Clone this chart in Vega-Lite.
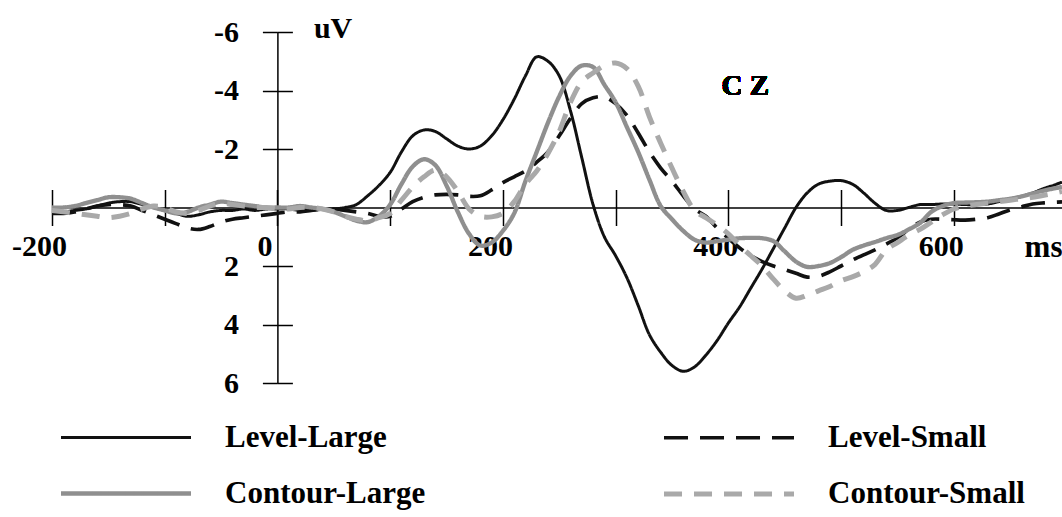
{
  "$schema": "https://vega.github.io/schema/vega-lite/v6.json",
  "width": 1010,
  "height": 351,
  "autosize": {"type": "none"},
  "padding": {"left": 52, "top": 32, "right": 0, "bottom": 134},
  "background": "white",
  "config": {"view": {"stroke": null}, "font": "Liberation Serif"},
  "data": {"values": [
    {"t":-200,"s":"Level-Large","v":0.15},{"t":-190,"s":"Level-Large","v":0.15},{"t":-180,"s":"Level-Large","v":0.1},{"t":-170,"s":"Level-Large","v":0.05},{"t":-160,"s":"Level-Large","v":-0.05},{"t":-150,"s":"Level-Large","v":-0.15},{"t":-140,"s":"Level-Large","v":-0.2},{"t":-130,"s":"Level-Large","v":-0.2},{"t":-120,"s":"Level-Large","v":-0.1},{"t":-110,"s":"Level-Large","v":0},{"t":-100,"s":"Level-Large","v":0.1},{"t":-90,"s":"Level-Large","v":0.2},{"t":-80,"s":"Level-Large","v":0.3},{"t":-70,"s":"Level-Large","v":0.25},{"t":-60,"s":"Level-Large","v":0.15},{"t":-50,"s":"Level-Large","v":0.1},{"t":-40,"s":"Level-Large","v":0.1},{"t":-30,"s":"Level-Large","v":0.05},{"t":-20,"s":"Level-Large","v":0.1},{"t":-10,"s":"Level-Large","v":0.05},{"t":0,"s":"Level-Large","v":0.05},{"t":10,"s":"Level-Large","v":0.05},{"t":20,"s":"Level-Large","v":0.1},{"t":30,"s":"Level-Large","v":0.1},{"t":40,"s":"Level-Large","v":0.05},{"t":50,"s":"Level-Large","v":0.05},{"t":60,"s":"Level-Large","v":0},{"t":70,"s":"Level-Large","v":-0.1},{"t":80,"s":"Level-Large","v":-0.4},{"t":90,"s":"Level-Large","v":-0.75},{"t":100,"s":"Level-Large","v":-1.2},{"t":110,"s":"Level-Large","v":-1.9},{"t":120,"s":"Level-Large","v":-2.45},{"t":130,"s":"Level-Large","v":-2.65},{"t":140,"s":"Level-Large","v":-2.6},{"t":150,"s":"Level-Large","v":-2.35},{"t":160,"s":"Level-Large","v":-2.1},{"t":170,"s":"Level-Large","v":-2.0},{"t":180,"s":"Level-Large","v":-2.1},{"t":190,"s":"Level-Large","v":-2.45},{"t":200,"s":"Level-Large","v":-3.0},{"t":210,"s":"Level-Large","v":-3.7},{"t":220,"s":"Level-Large","v":-4.5},{"t":230,"s":"Level-Large","v":-5.15},{"t":240,"s":"Level-Large","v":-5.0},{"t":250,"s":"Level-Large","v":-4.5},{"t":260,"s":"Level-Large","v":-3.3},{"t":270,"s":"Level-Large","v":-1.7},{"t":280,"s":"Level-Large","v":-0.1},{"t":290,"s":"Level-Large","v":1.0},{"t":300,"s":"Level-Large","v":1.65},{"t":310,"s":"Level-Large","v":2.4},{"t":320,"s":"Level-Large","v":3.35},{"t":330,"s":"Level-Large","v":4.35},{"t":340,"s":"Level-Large","v":4.95},{"t":350,"s":"Level-Large","v":5.4},{"t":360,"s":"Level-Large","v":5.6},{"t":370,"s":"Level-Large","v":5.45},{"t":380,"s":"Level-Large","v":5.05},{"t":390,"s":"Level-Large","v":4.55},{"t":400,"s":"Level-Large","v":3.95},{"t":410,"s":"Level-Large","v":3.4},{"t":420,"s":"Level-Large","v":2.75},{"t":430,"s":"Level-Large","v":2.1},{"t":440,"s":"Level-Large","v":1.4},{"t":450,"s":"Level-Large","v":0.7},{"t":460,"s":"Level-Large","v":0.0},{"t":470,"s":"Level-Large","v":-0.5},{"t":480,"s":"Level-Large","v":-0.8},{"t":490,"s":"Level-Large","v":-0.9},{"t":500,"s":"Level-Large","v":-0.92},{"t":510,"s":"Level-Large","v":-0.8},{"t":520,"s":"Level-Large","v":-0.5},{"t":530,"s":"Level-Large","v":-0.15},{"t":540,"s":"Level-Large","v":0.1},{"t":550,"s":"Level-Large","v":0.1},{"t":560,"s":"Level-Large","v":0.0},{"t":570,"s":"Level-Large","v":-0.1},{"t":580,"s":"Level-Large","v":-0.1},{"t":590,"s":"Level-Large","v":-0.12},{"t":600,"s":"Level-Large","v":-0.12},{"t":610,"s":"Level-Large","v":-0.1},{"t":620,"s":"Level-Large","v":-0.1},{"t":630,"s":"Level-Large","v":-0.12},{"t":640,"s":"Level-Large","v":-0.2},{"t":650,"s":"Level-Large","v":-0.28},{"t":660,"s":"Level-Large","v":-0.38},{"t":670,"s":"Level-Large","v":-0.5},{"t":680,"s":"Level-Large","v":-0.65},{"t":690,"s":"Level-Large","v":-0.78},{"t":696,"s":"Level-Large","v":-0.87},

    {"t":-200,"s":"Level-Small","v":0.2},{"t":-190,"s":"Level-Small","v":0.2},{"t":-180,"s":"Level-Small","v":0.15},{"t":-170,"s":"Level-Small","v":0.05},{"t":-160,"s":"Level-Small","v":-0.05},{"t":-150,"s":"Level-Small","v":-0.1},{"t":-140,"s":"Level-Small","v":-0.1},{"t":-130,"s":"Level-Small","v":-0.05},{"t":-120,"s":"Level-Small","v":0.1},{"t":-110,"s":"Level-Small","v":0.25},{"t":-100,"s":"Level-Small","v":0.4},{"t":-90,"s":"Level-Small","v":0.55},{"t":-80,"s":"Level-Small","v":0.7},{"t":-70,"s":"Level-Small","v":0.75},{"t":-60,"s":"Level-Small","v":0.65},{"t":-50,"s":"Level-Small","v":0.5},{"t":-40,"s":"Level-Small","v":0.4},{"t":-30,"s":"Level-Small","v":0.35},{"t":-20,"s":"Level-Small","v":0.3},{"t":-10,"s":"Level-Small","v":0.25},{"t":0,"s":"Level-Small","v":0.2},{"t":10,"s":"Level-Small","v":0.15},{"t":20,"s":"Level-Small","v":0.15},{"t":30,"s":"Level-Small","v":0.1},{"t":40,"s":"Level-Small","v":0.05},{"t":50,"s":"Level-Small","v":0.05},{"t":60,"s":"Level-Small","v":0.1},{"t":70,"s":"Level-Small","v":0.15},{"t":80,"s":"Level-Small","v":0.2},{"t":90,"s":"Level-Small","v":0.3},{"t":100,"s":"Level-Small","v":0.3},{"t":110,"s":"Level-Small","v":0.05},{"t":120,"s":"Level-Small","v":-0.2},{"t":130,"s":"Level-Small","v":-0.35},{"t":140,"s":"Level-Small","v":-0.43},{"t":150,"s":"Level-Small","v":-0.45},{"t":160,"s":"Level-Small","v":-0.43},{"t":170,"s":"Level-Small","v":-0.38},{"t":180,"s":"Level-Small","v":-0.4},{"t":190,"s":"Level-Small","v":-0.6},{"t":200,"s":"Level-Small","v":-0.85},{"t":210,"s":"Level-Small","v":-1.05},{"t":220,"s":"Level-Small","v":-1.25},{"t":230,"s":"Level-Small","v":-1.55},{"t":240,"s":"Level-Small","v":-1.9},{"t":250,"s":"Level-Small","v":-2.45},{"t":260,"s":"Level-Small","v":-3.05},{"t":270,"s":"Level-Small","v":-3.55},{"t":280,"s":"Level-Small","v":-3.75},{"t":290,"s":"Level-Small","v":-3.78},{"t":300,"s":"Level-Small","v":-3.55},{"t":310,"s":"Level-Small","v":-3.15},{"t":320,"s":"Level-Small","v":-2.55},{"t":330,"s":"Level-Small","v":-1.9},{"t":340,"s":"Level-Small","v":-1.35},{"t":350,"s":"Level-Small","v":-0.9},{"t":360,"s":"Level-Small","v":-0.4},{"t":370,"s":"Level-Small","v":0.05},{"t":380,"s":"Level-Small","v":0.3},{"t":390,"s":"Level-Small","v":0.7},{"t":400,"s":"Level-Small","v":1.05},{"t":410,"s":"Level-Small","v":1.38},{"t":420,"s":"Level-Small","v":1.65},{"t":430,"s":"Level-Small","v":1.85},{"t":440,"s":"Level-Small","v":2.0},{"t":450,"s":"Level-Small","v":2.12},{"t":460,"s":"Level-Small","v":2.25},{"t":470,"s":"Level-Small","v":2.38},{"t":480,"s":"Level-Small","v":2.35},{"t":490,"s":"Level-Small","v":2.2},{"t":500,"s":"Level-Small","v":2.0},{"t":510,"s":"Level-Small","v":1.8},{"t":520,"s":"Level-Small","v":1.62},{"t":530,"s":"Level-Small","v":1.45},{"t":540,"s":"Level-Small","v":1.25},{"t":550,"s":"Level-Small","v":1.04},{"t":560,"s":"Level-Small","v":0.75},{"t":570,"s":"Level-Small","v":0.5},{"t":580,"s":"Level-Small","v":0.4},{"t":590,"s":"Level-Small","v":0.4},{"t":600,"s":"Level-Small","v":0.42},{"t":610,"s":"Level-Small","v":0.43},{"t":620,"s":"Level-Small","v":0.4},{"t":630,"s":"Level-Small","v":0.35},{"t":640,"s":"Level-Small","v":0.22},{"t":650,"s":"Level-Small","v":0.08},{"t":660,"s":"Level-Small","v":-0.02},{"t":670,"s":"Level-Small","v":-0.12},{"t":680,"s":"Level-Small","v":-0.16},{"t":690,"s":"Level-Small","v":-0.18},{"t":696,"s":"Level-Small","v":-0.19},

    {"t":-200,"s":"Contour-Large","v":0.0},{"t":-190,"s":"Contour-Large","v":0.0},{"t":-180,"s":"Contour-Large","v":-0.05},{"t":-170,"s":"Contour-Large","v":-0.15},{"t":-160,"s":"Contour-Large","v":-0.25},{"t":-150,"s":"Contour-Large","v":-0.35},{"t":-140,"s":"Contour-Large","v":-0.35},{"t":-130,"s":"Contour-Large","v":-0.3},{"t":-120,"s":"Contour-Large","v":-0.15},{"t":-110,"s":"Contour-Large","v":0.0},{"t":-100,"s":"Contour-Large","v":0.1},{"t":-90,"s":"Contour-Large","v":0.2},{"t":-80,"s":"Contour-Large","v":0.15},{"t":-70,"s":"Contour-Large","v":0.0},{"t":-60,"s":"Contour-Large","v":-0.1},{"t":-50,"s":"Contour-Large","v":-0.2},{"t":-40,"s":"Contour-Large","v":-0.15},{"t":-30,"s":"Contour-Large","v":-0.1},{"t":-20,"s":"Contour-Large","v":-0.05},{"t":-10,"s":"Contour-Large","v":0.0},{"t":0,"s":"Contour-Large","v":0.0},{"t":10,"s":"Contour-Large","v":0.0},{"t":20,"s":"Contour-Large","v":-0.05},{"t":30,"s":"Contour-Large","v":0.0},{"t":40,"s":"Contour-Large","v":0.05},{"t":50,"s":"Contour-Large","v":0.15},{"t":60,"s":"Contour-Large","v":0.3},{"t":70,"s":"Contour-Large","v":0.45},{"t":80,"s":"Contour-Large","v":0.5},{"t":90,"s":"Contour-Large","v":0.3},{"t":100,"s":"Contour-Large","v":-0.1},{"t":110,"s":"Contour-Large","v":-0.8},{"t":120,"s":"Contour-Large","v":-1.4},{"t":130,"s":"Contour-Large","v":-1.65},{"t":140,"s":"Contour-Large","v":-1.45},{"t":150,"s":"Contour-Large","v":-0.75},{"t":160,"s":"Contour-Large","v":0.15},{"t":170,"s":"Contour-Large","v":0.9},{"t":180,"s":"Contour-Large","v":1.3},{"t":190,"s":"Contour-Large","v":1.2},{"t":200,"s":"Contour-Large","v":0.8},{"t":210,"s":"Contour-Large","v":0.2},{"t":220,"s":"Contour-Large","v":-0.9},{"t":230,"s":"Contour-Large","v":-1.9},{"t":240,"s":"Contour-Large","v":-2.9},{"t":250,"s":"Contour-Large","v":-3.8},{"t":260,"s":"Contour-Large","v":-4.5},{"t":270,"s":"Contour-Large","v":-4.85},{"t":280,"s":"Contour-Large","v":-4.8},{"t":290,"s":"Contour-Large","v":-4.2},{"t":300,"s":"Contour-Large","v":-3.6},{"t":310,"s":"Contour-Large","v":-2.75},{"t":320,"s":"Contour-Large","v":-1.9},{"t":330,"s":"Contour-Large","v":-0.95},{"t":340,"s":"Contour-Large","v":-0.05},{"t":350,"s":"Contour-Large","v":0.4},{"t":360,"s":"Contour-Large","v":0.8},{"t":370,"s":"Contour-Large","v":1.1},{"t":380,"s":"Contour-Large","v":1.2},{"t":390,"s":"Contour-Large","v":1.15},{"t":400,"s":"Contour-Large","v":1.1},{"t":410,"s":"Contour-Large","v":1.05},{"t":420,"s":"Contour-Large","v":1.04},{"t":430,"s":"Contour-Large","v":1.05},{"t":440,"s":"Contour-Large","v":1.15},{"t":450,"s":"Contour-Large","v":1.5},{"t":460,"s":"Contour-Large","v":1.85},{"t":470,"s":"Contour-Large","v":2.03},{"t":480,"s":"Contour-Large","v":2.0},{"t":490,"s":"Contour-Large","v":1.9},{"t":500,"s":"Contour-Large","v":1.7},{"t":510,"s":"Contour-Large","v":1.45},{"t":520,"s":"Contour-Large","v":1.3},{"t":530,"s":"Contour-Large","v":1.18},{"t":540,"s":"Contour-Large","v":1.05},{"t":550,"s":"Contour-Large","v":0.94},{"t":560,"s":"Contour-Large","v":0.75},{"t":570,"s":"Contour-Large","v":0.53},{"t":580,"s":"Contour-Large","v":0.15},{"t":590,"s":"Contour-Large","v":-0.05},{"t":600,"s":"Contour-Large","v":-0.15},{"t":610,"s":"Contour-Large","v":-0.17},{"t":620,"s":"Contour-Large","v":-0.18},{"t":630,"s":"Contour-Large","v":-0.2},{"t":640,"s":"Contour-Large","v":-0.25},{"t":650,"s":"Contour-Large","v":-0.3},{"t":660,"s":"Contour-Large","v":-0.38},{"t":670,"s":"Contour-Large","v":-0.48},{"t":680,"s":"Contour-Large","v":-0.58},{"t":690,"s":"Contour-Large","v":-0.66},{"t":696,"s":"Contour-Large","v":-0.7},

    {"t":-200,"s":"Contour-Small","v":0.1},{"t":-190,"s":"Contour-Small","v":0.15},{"t":-180,"s":"Contour-Small","v":0.2},{"t":-170,"s":"Contour-Small","v":0.25},{"t":-160,"s":"Contour-Small","v":0.3},{"t":-150,"s":"Contour-Small","v":0.35},{"t":-140,"s":"Contour-Small","v":0.3},{"t":-130,"s":"Contour-Small","v":0.2},{"t":-120,"s":"Contour-Small","v":0.05},{"t":-110,"s":"Contour-Small","v":-0.05},{"t":-100,"s":"Contour-Small","v":0.0},{"t":-90,"s":"Contour-Small","v":0.15},{"t":-80,"s":"Contour-Small","v":0.2},{"t":-70,"s":"Contour-Small","v":0.1},{"t":-60,"s":"Contour-Small","v":-0.05},{"t":-50,"s":"Contour-Small","v":-0.15},{"t":-40,"s":"Contour-Small","v":-0.1},{"t":-30,"s":"Contour-Small","v":-0.05},{"t":-20,"s":"Contour-Small","v":0.0},{"t":-10,"s":"Contour-Small","v":0.0},{"t":0,"s":"Contour-Small","v":0.05},{"t":10,"s":"Contour-Small","v":0.05},{"t":20,"s":"Contour-Small","v":0.0},{"t":30,"s":"Contour-Small","v":0.0},{"t":40,"s":"Contour-Small","v":0.05},{"t":50,"s":"Contour-Small","v":0.15},{"t":60,"s":"Contour-Small","v":0.3},{"t":70,"s":"Contour-Small","v":0.4},{"t":80,"s":"Contour-Small","v":0.45},{"t":90,"s":"Contour-Small","v":0.35},{"t":100,"s":"Contour-Small","v":0.2},{"t":110,"s":"Contour-Small","v":-0.25},{"t":120,"s":"Contour-Small","v":-0.7},{"t":130,"s":"Contour-Small","v":-1.05},{"t":140,"s":"Contour-Small","v":-1.28},{"t":150,"s":"Contour-Small","v":-1.05},{"t":160,"s":"Contour-Small","v":-0.55},{"t":170,"s":"Contour-Small","v":0.05},{"t":180,"s":"Contour-Small","v":0.3},{"t":190,"s":"Contour-Small","v":0.32},{"t":200,"s":"Contour-Small","v":0.2},{"t":210,"s":"Contour-Small","v":-0.2},{"t":220,"s":"Contour-Small","v":-0.8},{"t":230,"s":"Contour-Small","v":-1.25},{"t":240,"s":"Contour-Small","v":-1.85},{"t":250,"s":"Contour-Small","v":-2.6},{"t":260,"s":"Contour-Small","v":-3.6},{"t":270,"s":"Contour-Small","v":-4.3},{"t":280,"s":"Contour-Small","v":-4.6},{"t":290,"s":"Contour-Small","v":-4.85},{"t":300,"s":"Contour-Small","v":-4.94},{"t":310,"s":"Contour-Small","v":-4.75},{"t":320,"s":"Contour-Small","v":-4.15},{"t":330,"s":"Contour-Small","v":-3.1},{"t":340,"s":"Contour-Small","v":-2.2},{"t":350,"s":"Contour-Small","v":-1.35},{"t":360,"s":"Contour-Small","v":-0.55},{"t":370,"s":"Contour-Small","v":0.1},{"t":380,"s":"Contour-Small","v":0.35},{"t":390,"s":"Contour-Small","v":0.6},{"t":400,"s":"Contour-Small","v":0.9},{"t":410,"s":"Contour-Small","v":1.3},{"t":420,"s":"Contour-Small","v":1.65},{"t":430,"s":"Contour-Small","v":2.0},{"t":440,"s":"Contour-Small","v":2.45},{"t":450,"s":"Contour-Small","v":2.85},{"t":460,"s":"Contour-Small","v":3.1},{"t":470,"s":"Contour-Small","v":3.0},{"t":480,"s":"Contour-Small","v":2.85},{"t":490,"s":"Contour-Small","v":2.7},{"t":500,"s":"Contour-Small","v":2.5},{"t":510,"s":"Contour-Small","v":2.37},{"t":520,"s":"Contour-Small","v":2.2},{"t":530,"s":"Contour-Small","v":1.95},{"t":540,"s":"Contour-Small","v":1.45},{"t":550,"s":"Contour-Small","v":1.2},{"t":560,"s":"Contour-Small","v":0.95},{"t":570,"s":"Contour-Small","v":0.75},{"t":580,"s":"Contour-Small","v":0.5},{"t":590,"s":"Contour-Small","v":0.25},{"t":600,"s":"Contour-Small","v":0.05},{"t":610,"s":"Contour-Small","v":-0.05},{"t":620,"s":"Contour-Small","v":-0.1},{"t":630,"s":"Contour-Small","v":-0.15},{"t":640,"s":"Contour-Small","v":-0.2},{"t":650,"s":"Contour-Small","v":-0.25},{"t":660,"s":"Contour-Small","v":-0.3},{"t":670,"s":"Contour-Small","v":-0.35},{"t":680,"s":"Contour-Small","v":-0.42},{"t":690,"s":"Contour-Small","v":-0.5},{"t":696,"s":"Contour-Small","v":-0.55}
  ]},
  "resolve": {"axis": {"x": "independent", "y": "independent"}},
  "layer": [
    {
      "mark": {"type": "line", "interpolate": "catmull-rom"},
      "encoding": {
        "x": {"field": "t", "type": "quantitative",
          "scale": {"domain": [-200, 696], "nice": false, "zero": false},
          "axis": {"orient": "bottom", "offset": -175.5, "values": [-200,-100,0,100,200,300,400,500,600],
            "tickSize": 18, "tickWidth": 1.5, "tickColor": "black", "domainColor": "black", "domainWidth": 1.5,
            "grid": false, "labelFont": "Liberation Serif", "labelFontWeight": "bold", "labelFontSize": 30, "labelColor": "black",
            "labelExpr": "datum.value % 200 == 0 ? '' + datum.value : ''", "labelOffset": -13, "labelPadding": 6,
            "labelFlush": false, "labelOverlap": false,
            "title": "ms", "titleFont": "Liberation Serif", "titleFontWeight": "bold", "titleFontSize": 31, "titleColor": "black",
            "titleX": 1010, "titleY": 40, "titleAlign": "right", "titleBaseline": "middle"}},
        "y": {"field": "v", "type": "quantitative",
          "scale": {"domain": [-6, 6], "nice": false, "zero": false, "reverse": true},
          "axis": {"orient": "left", "offset": -225.4, "values": [-6,-4,-2,2,4,6],
            "tickSize": 15, "tickWidth": 1.5, "tickColor": "black", "domainColor": "black", "domainWidth": 1.5,
            "grid": false, "labelFont": "Liberation Serif", "labelFontWeight": "bold", "labelFontSize": 30, "labelColor": "black",
            "labelExpr": "'' + datum.value", "labelPadding": 24, "labelFlush": false, "labelOverlap": false,
            "title": "uV", "titleAngle": 0, "titleFont": "Liberation Serif", "titleFontWeight": "bold", "titleFontSize": 30, "titleColor": "black",
            "titleX": 36, "titleY": -4, "titleAlign": "left", "titleBaseline": "middle"}},
        "color": {"field": "s", "type": "nominal",
          "scale": {"domain": ["Level-Large", "Level-Small", "Contour-Large", "Contour-Small"], "range": ["#111111", "#111111", "#8f8f8f", "#a9a9a9"]},
          "legend": {"orient": "none", "direction": "horizontal", "legendX": 55, "legendY": 387, "columns": 2, "columnPadding": 228, "rowPadding": 22,
            "symbolType": "M -4 0 L 4 0", "symbolSize": 1056, "labelFont": "Liberation Serif", "labelFontWeight": "bold",
            "labelFontSize": 31, "labelColor": "black", "labelOffset": 80, "labelLimit": 0, "title": null}},
        "strokeDash": {"field": "s", "type": "nominal",
          "scale": {"domain": ["Level-Large", "Level-Small", "Contour-Large", "Contour-Small"], "range": [[1,0],[24,12],[1,0],[18,12]]}},
        "strokeWidth": {"field": "s", "type": "nominal",
          "scale": {"domain": ["Level-Large", "Level-Small", "Contour-Large", "Contour-Small"], "range": [3, 5, 2.2, 2.6]}}
      }
    },
    {
      "mark": {"type": "line", "opacity": 0},
      "encoding": {
        "x": {"field": "t", "type": "quantitative",
          "axis": {"orient": "top", "offset": -175.5, "values": [-200,-100,0,100,200,300,400,500,600],
            "tickSize": 18, "tickWidth": 1.5, "tickColor": "black", "domain": false, "labels": false, "grid": false, "title": null}},
        "y": {"field": "v", "type": "quantitative",
          "axis": {"orient": "right", "offset": -784.6, "values": [-6,-4,-2,2,4,6],
            "tickSize": 15, "tickWidth": 1.5, "tickColor": "black", "domain": false, "labels": false, "grid": false, "title": null}},
        "detail": {"field": "s", "type": "nominal"}
      }
    },
    {
      "mark": {"type": "text", "font": "Liberation Serif", "fontWeight": "bold", "fontSize": 29, "color": "black", "align": "center", "baseline": "middle"},
      "encoding": {
        "x": {"datum": 415, "type": "quantitative", "axis": null},
        "y": {"datum": -4.15, "type": "quantitative", "axis": null},
        "text": {"value": "C Z"}
      }
    }
  ]
}
